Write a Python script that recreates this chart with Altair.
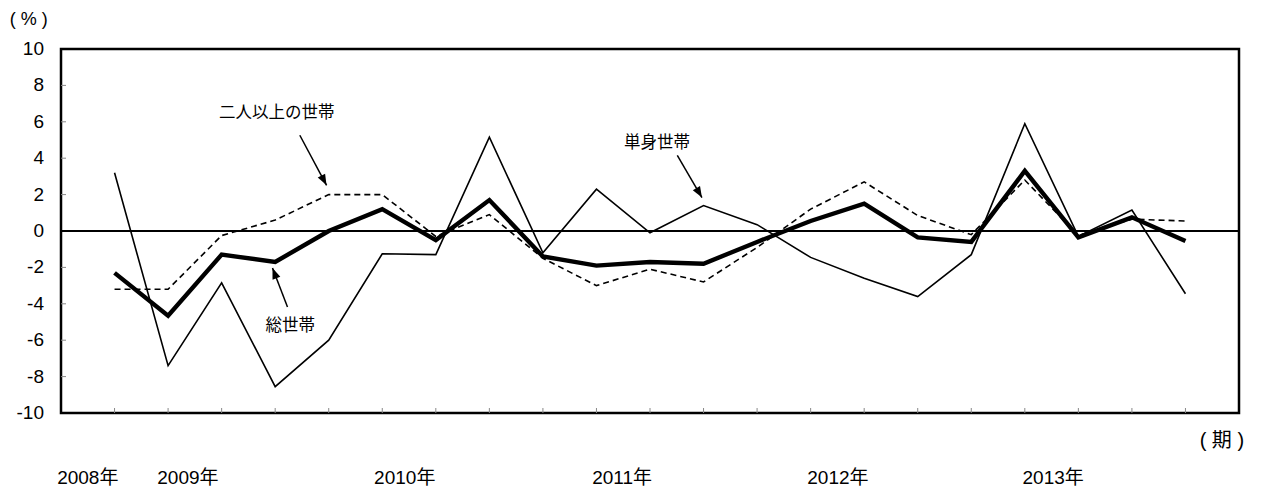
import altair as alt
import pandas as pd
import math

# quarter index: 0 = 2008 Q4 ... 20 = 2013 Q4
quarters = list(range(21))
total = [-2.3, -4.65, -1.3, -1.7, 0.0, 1.2, -0.5, 1.7, -1.4, -1.9, -1.7, -1.8,
         -0.6, 0.55, 1.5, -0.35, -0.6, 3.3, -0.35, 0.75, -0.55]
multi = [-3.2, -3.2, -0.25, 0.6, 2.0, 2.0, -0.3, 0.9, -1.5, -3.0, -2.1, -2.8,
         -0.9, 1.2, 2.7, 0.85, -0.2, 2.8, -0.25, 0.65, 0.55]
single = [3.2, -7.4, -2.85, -8.55, -6.0, -1.25, -1.3, 5.15, -1.2, 2.3, -0.1, 1.4,
          0.35, -1.45, -2.6, -3.6, -1.3, 5.9, -0.3, 1.15, -3.45]

y_ticks = list(range(-10, 11, 2))
y_tick_labels = [str(v) for v in y_ticks]
year_labels = ["2008年", "2009年", "2010年", "2011年", "2012年", "2013年"]
year_label_x = [-0.5, 1.37, 5.42, 9.48, 13.51, 17.53]
year_label_y = -13.55

unit_labels = ["( 期 )", "( % )"]
unit_x = [20.68, -1.6]
unit_y = [-11.55, 11.6]
unit_size = [20, 18]

# annotations (data coordinates)
ann_text = ["二人以上の世帯", "単身世帯", "総世帯"]
ann_text_x = [3.03, 10.13, 3.28]
ann_text_y = [6.47, 4.82, -5.24]
arrow_x0 = [3.46, 10.51, 3.23]
arrow_y0 = [5.26, 4.16, -4.18]
arrow_x1 = [3.96, 10.97, 2.95]
arrow_y1 = [2.51, 1.84, -2.03]

W, H = 1178, 364
XMIN, XMAX, YMIN, YMAX = -1, 21, -10, 10
FONT = "Liberation Sans, Arial, Noto Sans CJK JP"
JFONT = "Noto Sans CJK JP"

xs = alt.Scale(domain=[XMIN, XMAX], nice=False, zero=False)
ys = alt.Scale(domain=[YMIN, YMAX], nice=False, zero=False)


def Y(field):
    return alt.Y(field, scale=ys, axis=None)


def Xe(field):
    return alt.X(field, scale=xs, axis=None)


df = pd.DataFrame({"q": quarters, "total": total, "multi": multi, "single": single})

ylabels = alt.Chart(pd.DataFrame({"v": y_ticks, "t": y_tick_labels})).mark_text(
    font=FONT, fontSize=19, color="black", align="right", baseline="middle").encode(
    y=Y("v:Q"), x=alt.value(-17), text="t:N")

ytick_rules = alt.Chart(pd.DataFrame({"v": y_ticks[1:-1]})).mark_rule(
    color="#888888", strokeWidth=1).encode(
    y=Y("v:Q"), x=alt.value(0), x2=alt.value(5))

xtick_rules = alt.Chart(pd.DataFrame({"q": quarters})).mark_rule(
    color="#888888", strokeWidth=1).encode(
    x=Xe("q:Q"), y=alt.value(H), y2=alt.value(H - 5))

zero = alt.Chart(pd.DataFrame({"v": [0]})).mark_rule(color="black", strokeWidth=2).encode(
    y=Y("v:Q"), x=alt.value(0), x2=alt.value(W))

l_single = alt.Chart(df).mark_line(color="black", strokeWidth=1.6).encode(
    x=Xe("q:Q"), y=Y("single:Q"))
l_multi = alt.Chart(df).mark_line(color="black", strokeWidth=1.6, strokeDash=[6, 4]).encode(
    x=Xe("q:Q"), y=Y("multi:Q"))
l_total = alt.Chart(df).mark_line(color="black", strokeWidth=4.4).encode(
    x=Xe("q:Q"), y=Y("total:Q"))

# arrows
px_x = W / (XMAX - XMIN)
px_y = H / (YMAX - YMIN)
angles = []
for a, b, c, d in zip(arrow_x0, arrow_y0, arrow_x1, arrow_y1):
    dx = (c - a) * px_x
    dy = -(d - b) * px_y
    angles.append(math.degrees(math.atan2(dx, -dy)) % 360)
arr_df = pd.DataFrame({"x0": arrow_x0, "y0": arrow_y0, "x1": arrow_x1, "y1": arrow_y1,
                       "ang": angles})
arrow_lines = alt.Chart(arr_df).mark_rule(color="black", strokeWidth=1.5).encode(
    x=Xe("x0:Q"), y=Y("y0:Q"), x2="x1:Q", y2="y1:Q")
arrow_heads = alt.Chart(arr_df).mark_point(
    shape="M0,0L-0.38,1L0.38,1Z", filled=True, color="black", opacity=1, size=480,
    strokeWidth=0).encode(
    x=Xe("x1:Q"), y=Y("y1:Q"), angle=alt.Angle("ang:Q", scale=None))

ann = alt.Chart(pd.DataFrame({"t": ann_text, "x": ann_text_x, "y": ann_text_y})).mark_text(
    font=JFONT, fontSize=16.5, color="black", align="center", baseline="middle").encode(
    x=Xe("x:Q"), y=Y("y:Q"), text="t:N")

years = alt.Chart(pd.DataFrame({"t": year_labels, "x": year_label_x,
                                "y": [year_label_y] * len(year_labels)})).mark_text(
    font=FONT, fontSize=19, color="black", align="center", baseline="middle").encode(
    x=Xe("x:Q"), y=Y("y:Q"), text="t:N")

units = alt.Chart(pd.DataFrame({"t": unit_labels, "x": unit_x, "y": unit_y,
                                "s": unit_size})).mark_text(
    font=FONT, color="black", align="center", baseline="middle").encode(
    x=Xe("x:Q"), y=Y("y:Q"), text="t:N", size=alt.Size("s:Q", scale=None, legend=None))

chart = alt.layer(
    ylabels, ytick_rules, xtick_rules, zero, l_single, l_multi, l_total,
    arrow_lines, arrow_heads, ann, years, units
).properties(
    width=W, height=H,
    background="white",
    autosize=alt.AutoSizeParams(type="none"),
    padding={"left": 53, "top": 41, "right": 16, "bottom": 76},
).configure_view(
    stroke="black", strokeWidth=2.5
)

chart.save("out.html", embed_options={"renderer": "svg", "actions": False})
